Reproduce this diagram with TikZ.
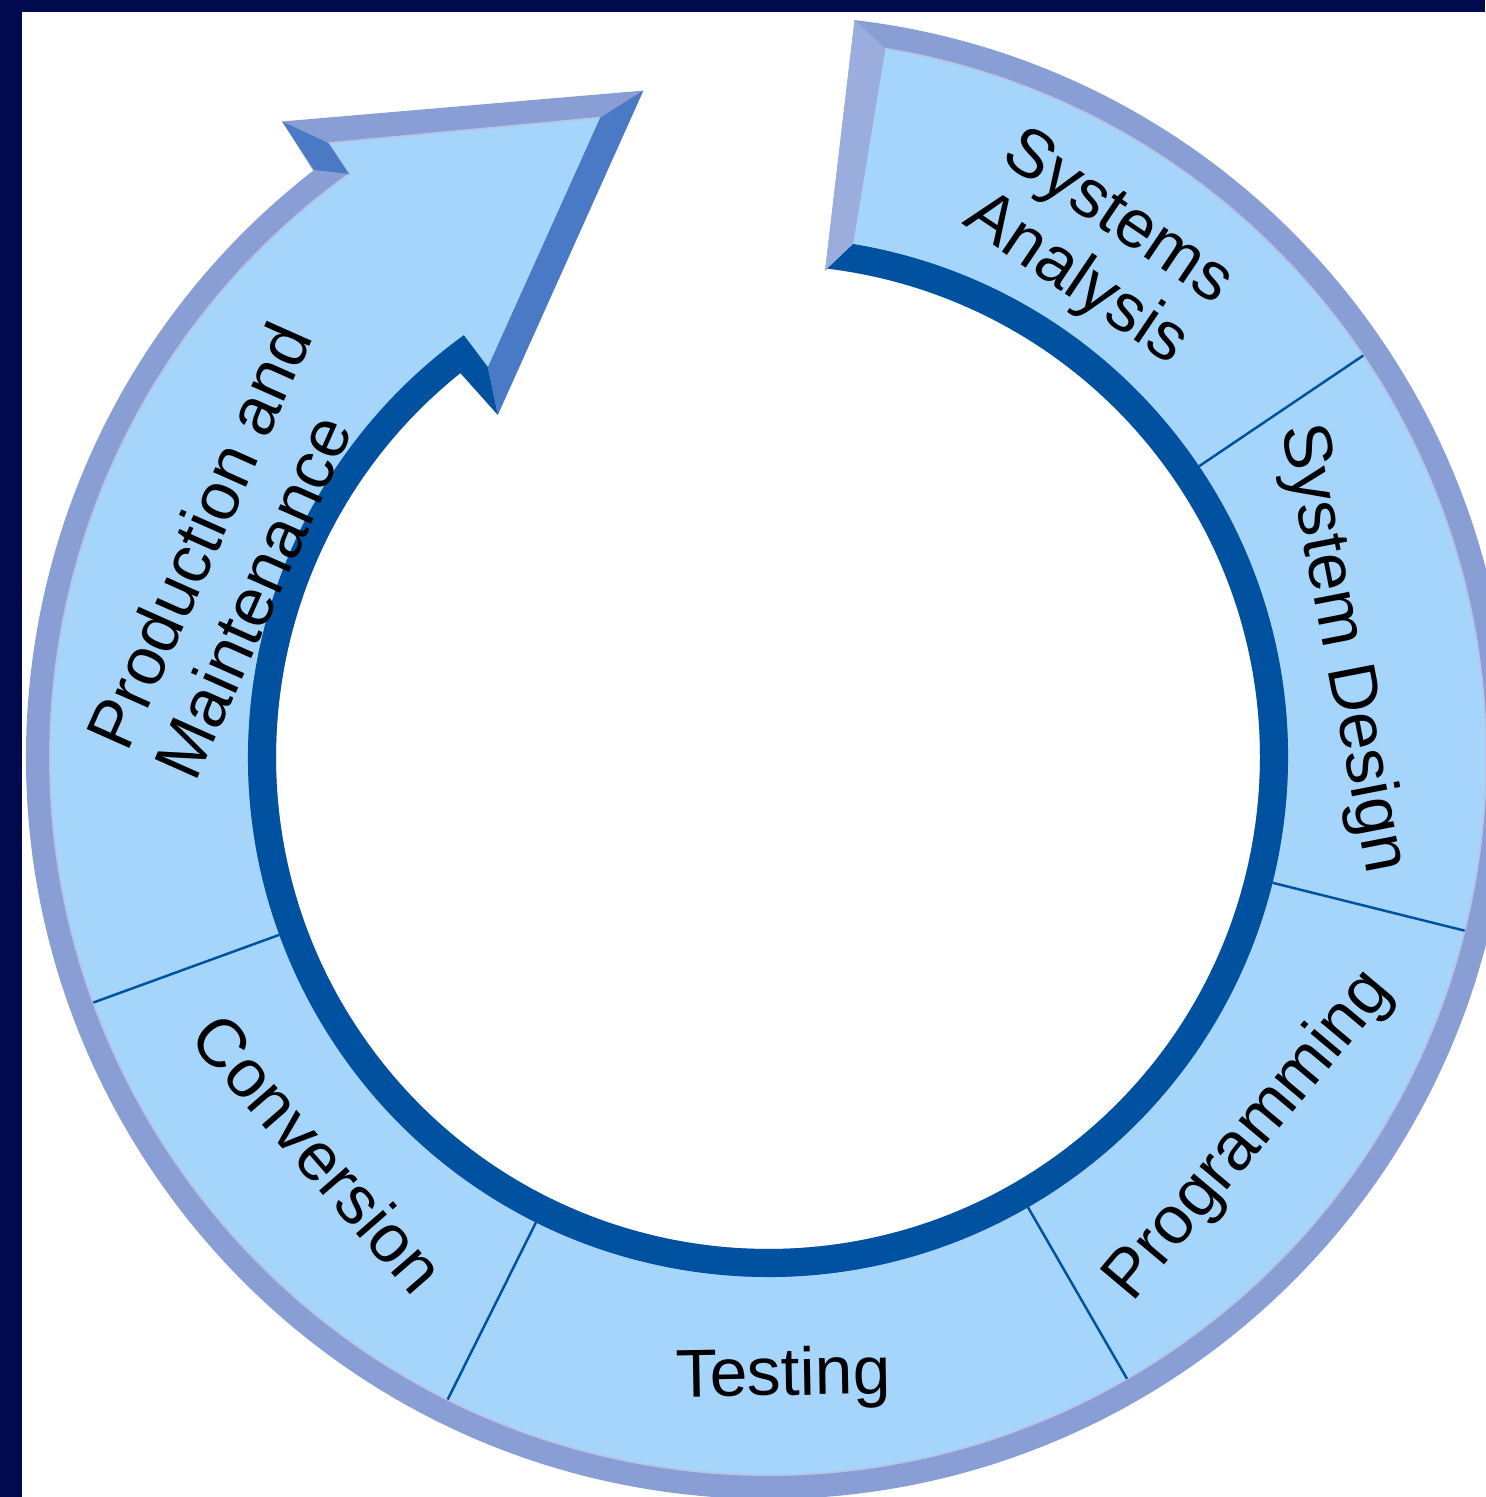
\documentclass[tikz,border=0pt]{standalone}
\usepackage{fontspec}
\setmainfont{Liberation Sans}
\usepackage{tikz}

\definecolor{navy}{RGB}{0,10,76}
\definecolor{ringlav}{RGB}{138,158,214}
\definecolor{ringlavlight}{RGB}{155,173,220}
\definecolor{ringpale}{RGB}{184,196,230}
\definecolor{ringfill}{RGB}{166,213,251}
\definecolor{ringmid}{RGB}{74,122,198}
\definecolor{ringdark}{RGB}{0,82,160}

\begin{document}
\begin{tikzpicture}[x=0.1mm,y=0.1mm,
  stage/.style={font=\fontsize{19.3}{21.2}\selectfont,inner sep=0pt,align=center},
  divider/.style={draw=ringdark,line width=0.7pt}]

  \useasboundingbox (0,0) rectangle (1485,1497);
  \coordinate (c) at (768,740);

  \begin{scope}[shift={(c)}]
    % ring and arrow head
    \fill[ringlav] (83.3:742) arc[start angle=83.3,end angle=-232.2,radius=742]
      -- (127.4:800) -- (100.6:678) -- (128.3:436) -- (128.7:492)
      arc[start angle=-231.3,end angle=83.3,radius=492] -- cycle;
    \fill[ringfill] (80.6:718) arc[start angle=80.6,end angle=-234.3,radius=718]
      -- (125.6:755) -- (104.7:661) -- (125.7:480) -- (125.8:520)
      arc[start angle=-234.2,end angle=80.6,radius=520] -- cycle;
    \draw[ringpale,line width=0.5pt] (80.6:718) arc[start angle=80.6,end angle=-234.3,radius=718]
      -- (125.6:755) -- (104.7:661);
    \fill[ringdark] (83.3:490) -- (80.6:520) arc[start angle=80.6,end angle=-234.2,radius=520]
      -- (125.7:480) -- (128.3:436) -- (128.7:492)
      arc[start angle=-231.3,end angle=83.3,radius=492] -- cycle;
    \fill[ringlavlight] (83.3:742) -- (80.6:718) -- (80.6:520) -- (83.3:490) -- cycle;
    \fill[ringmid] (100.6:678) -- (128.3:436) -- (125.7:480) -- (104.7:661) -- cycle;
    \fill[ringmid] (127.4:800) -- (125.6:755) -- (125.7:718) -- (127.7:742) -- cycle;

    \foreach \a in {34,-14,-60,-116.5,-160}
      \draw[divider] (\a:520) -- (\a:718);

    \node[stage,rotate=-34] (sa) at (57.1:604) {Systems\\Analysis};
    \node[stage,rotate=-79] (sd) at (10.7:584) {System Design};
    \node[stage,rotate=50] (pr) at (-38.2:613) {Programming};
    \node[stage,rotate=1] (te) at (-88.6:621) {Testing};
    \node[stage,rotate=-49] (co) at (-138.6:599) {Conversion};
    \node[stage,rotate=66,align=left] (pm) at (158.9:574) {Production and\\Maintenance};
  \end{scope}

  \fill[navy] (0,0) rectangle (22,1497);
  \fill[navy] (0,1485) rectangle (1485,1497);
\end{tikzpicture}
\end{document}
